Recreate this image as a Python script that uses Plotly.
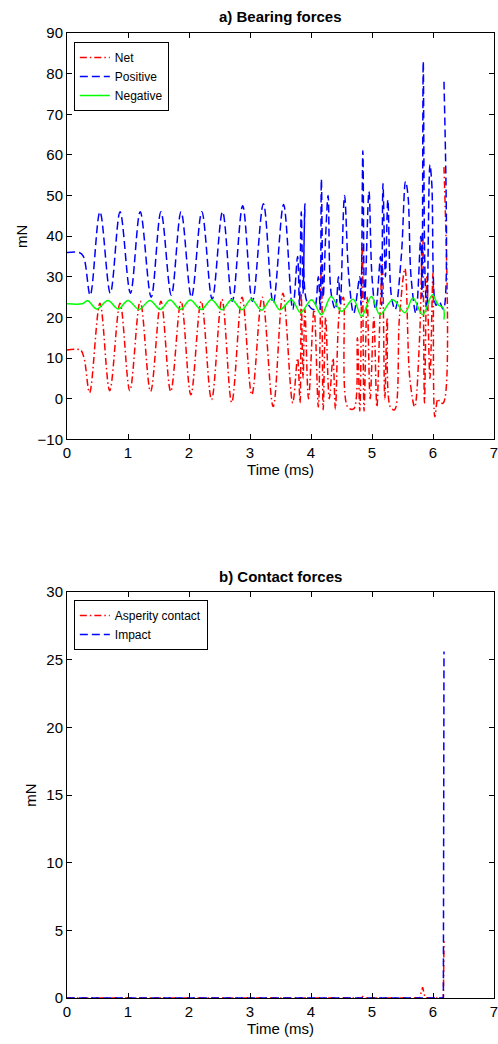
import plotly.graph_objects as go

# ---------------- a) Bearing forces ----------------
t_net = [0, 0.22, 0.28, 0.37, 0.54, 0.70, 0.87, 1.03, 1.20, 1.37, 1.54, 1.70, 1.87, 2.03,
         2.20, 2.37, 2.54, 2.70, 2.87, 3.03, 3.20, 3.38, 3.54, 3.70,
         3.78, 3.82, 3.84, 3.87, 3.90, 3.96, 4.05, 4.12, 4.17, 4.20, 4.24, 4.30, 4.36, 4.40,
         4.47, 4.53, 4.60, 4.70, 4.76, 4.80, 4.84, 4.87, 4.92, 4.97, 5.03, 5.08, 5.13, 5.17,
         5.21, 5.25, 5.30, 5.37, 5.45, 5.54, 5.62, 5.70, 5.78, 5.83, 5.86, 5.90, 5.95, 6.00,
         6.03, 6.08, 6.12, 6.17, 6.18]
net = [12, 12, 10, 1.5, 23.5, 2, 23.5, 2, 24, 1.8, 24, 1.8, 24, 1,
       24, -0.2, 24.5, -0.9, 25, 1, 25, -1.9, 26, -1,
       10, -1, 26, 5, 22, 0, 22, -2, 33, -2.7, 20, 0, 10, -2.5,
       22, 25, -2, -2.5, 15, -3, 38, -3, 25, 0, 20, -2, 20, 33,
       0, 20, -2, -2.7, 20, 32, 5, -2, 15, 41, -1, 30, 5, 31,
       -4.4, 0, -1, -1, 57]

t_pos = [0, 0.20, 0.27, 0.38, 0.54, 0.71, 0.87, 1.04, 1.20, 1.38, 1.54, 1.71, 1.87, 2.04,
         2.21, 2.38, 2.55, 2.71, 2.88, 3.04, 3.22, 3.38, 3.55, 3.70,
         3.78, 3.81, 3.84, 3.87, 3.90, 3.93, 4.05, 4.12, 4.15, 4.17, 4.20, 4.24, 4.28, 4.33,
         4.40, 4.45, 4.48, 4.55, 4.62, 4.70, 4.80, 4.82, 4.85, 4.88, 4.95, 5.00, 5.06, 5.14,
         5.16, 5.18, 5.22, 5.26, 5.32, 5.38, 5.48, 5.55, 5.59, 5.64, 5.72, 5.80, 5.82, 5.84,
         5.87, 5.90, 5.95, 5.98, 6.05, 6.10, 6.17, 6.18]
positive = [36, 36, 35, 25.5, 46, 26, 46, 26, 46, 25, 46, 25.5, 46, 25,
            46, 24.5, 46, 24, 47.5, 24, 48, 23.5, 47.8, 22,
            35, 23, 46, 26, 48, 24, 22, 30, 22, 54, 25, 40, 50, 26,
            22, 30, 23, 50, 30, 21, 30, 23, 61, 24, 51, 30, 22, 35,
            23, 53, 30, 49, 25, 22, 35, 53.5, 50, 30, 21, 40, 25, 83,
            30, 22, 57.6, 53, 23, 24, 22, 78]

t_neg = [0, 0.25, 0.34, 0.49, 0.67, 0.84, 1.00, 1.18, 1.36, 1.53, 1.69, 1.86, 2.02, 2.20,
         2.37, 2.54, 2.70, 2.87, 3.02, 3.19, 3.35, 3.49, 3.68, 3.83, 4.01, 4.17, 4.33, 4.50,
         4.69, 4.83, 4.99, 5.13, 5.34, 5.54, 5.67, 5.83, 5.99, 6.08, 6.17, 6.18]
negative = [23.4, 23.4, 24.1, 22.1, 24.2, 22.1, 24.2, 22.0, 24.2, 22.0, 24.3, 22.0, 24.3, 22.0,
            24.4, 21.9, 24.4, 21.9, 24.5, 21.8, 24.6, 21.9, 24.4, 21.2, 24.4, 20.7, 25.2, 21.5,
            24.5, 20.3, 25.2, 20.7, 24.4, 21.2, 24.8, 20.7, 25.6, 23.2, 22.3, 19.5]

# ---------------- b) Contact forces ----------------
t_asp = [0, 4.83, 4.85, 4.87, 5.78, 5.81, 5.83, 5.85, 5.87, 6.17, 6.18]
asperity = [0, 0, 0.1, 0, 0, 0.5, 0.8, 0.4, 0, 0, 4.2]

t_imp = [0, 6.17, 6.18]
impact = [0, 0, 25.6]

x_ticks = [0, 1, 2, 3, 4, 5, 6, 7]
y1_ticks = [-10, 0, 10, 20, 30, 40, 50, 60, 70, 80, 90]
y2_ticks = [0, 5, 10, 15, 20, 25, 30]

RED = "#ff0000"
BLUE = "#0000ff"
GREEN = "#00ff00"
DASHDOT = "7px,3px,1.5px,3px"
DASH = "8px,4px"
FONT = "Liberation Sans, Arial, Helvetica, sans-serif"

fig = go.Figure()
fig.add_trace(go.Scatter(x=t_net, y=net, name="Net", mode="lines",
                         line=dict(color=RED, width=1.5, dash=DASHDOT, shape="spline"),
                         xaxis="x", yaxis="y", legend="legend"))
fig.add_trace(go.Scatter(x=t_pos, y=positive, name="Positive", mode="lines",
                         line=dict(color=BLUE, width=1.5, dash=DASH, shape="spline"),
                         xaxis="x", yaxis="y", legend="legend"))
fig.add_trace(go.Scatter(x=t_neg, y=negative, name="Negative", mode="lines",
                         line=dict(color=GREEN, width=1.5, shape="spline"),
                         xaxis="x", yaxis="y", legend="legend"))
fig.add_trace(go.Scatter(x=t_asp, y=asperity, name="Asperity contact", mode="lines",
                         line=dict(color=RED, width=1.5, dash=DASHDOT),
                         xaxis="x2", yaxis="y2", legend="legend2"))
fig.add_trace(go.Scatter(x=t_imp, y=impact, name="Impact", mode="lines",
                         line=dict(color=BLUE, width=1.5, dash=DASH),
                         xaxis="x2", yaxis="y2", legend="legend2"))

axis_common = dict(showline=True, linecolor="black", linewidth=1, mirror="ticks",
                   ticks="inside", ticklen=5, tickcolor="black", showgrid=False,
                   zeroline=False, automargin=False, ticklabeloverflow="allow",
                   tickfont=dict(size=15, color="black"))

fig.update_layout(
    width=498, height=1044,
    margin=dict(l=67, r=4, t=33, b=46, autoexpand=False),
    paper_bgcolor="white", plot_bgcolor="white",
    font=dict(family=FONT, color="black", size=15),
    xaxis=dict(domain=[0, 1], anchor="y", range=[0, 7], tickvals=x_ticks,
               title=dict(text="Time (ms)", standoff=3, font=dict(size=15)), **axis_common),
    yaxis=dict(domain=[0.5788, 1], anchor="x", range=[-10, 90], tickvals=y1_ticks,
               title=dict(text="mN", standoff=6, font=dict(size=15)), **axis_common),
    xaxis2=dict(domain=[0, 1], anchor="y2", range=[0, 7], tickvals=x_ticks,
                title=dict(text="Time (ms)", standoff=3, font=dict(size=15)), **axis_common),
    yaxis2=dict(domain=[0, 0.4207], anchor="x2", range=[0, 30], tickvals=y2_ticks,
                title=dict(text="mN", standoff=6, font=dict(size=15)), **axis_common),
    legend=dict(x=0.016, y=0.9907, xanchor="left", yanchor="top",
                bordercolor="black", borderwidth=1, bgcolor="white",
                font=dict(size=12), tracegroupgap=0, itemwidth=30),
    legend2=dict(x=0.016, y=0.4124, xanchor="left", yanchor="top",
                 bordercolor="black", borderwidth=1, bgcolor="white",
                 font=dict(size=12), tracegroupgap=0, itemwidth=30),
    showlegend=True,
    annotations=[
        dict(text="<b>a) Bearing forces</b>", x=0.5, y=1.0176, xref="paper", yref="paper",
             xanchor="center", yanchor="middle", showarrow=False, font=dict(size=15)),
        dict(text="<b>b) Contact forces</b>", x=0.5, y=0.4373, xref="paper", yref="paper",
             xanchor="center", yanchor="middle", showarrow=False, font=dict(size=15)),
    ],
)

fig.write_html("out.html", config={"displayModeBar": False},
               post_script="document.body.style.margin='0';document.body.style.overflow='hidden';")
